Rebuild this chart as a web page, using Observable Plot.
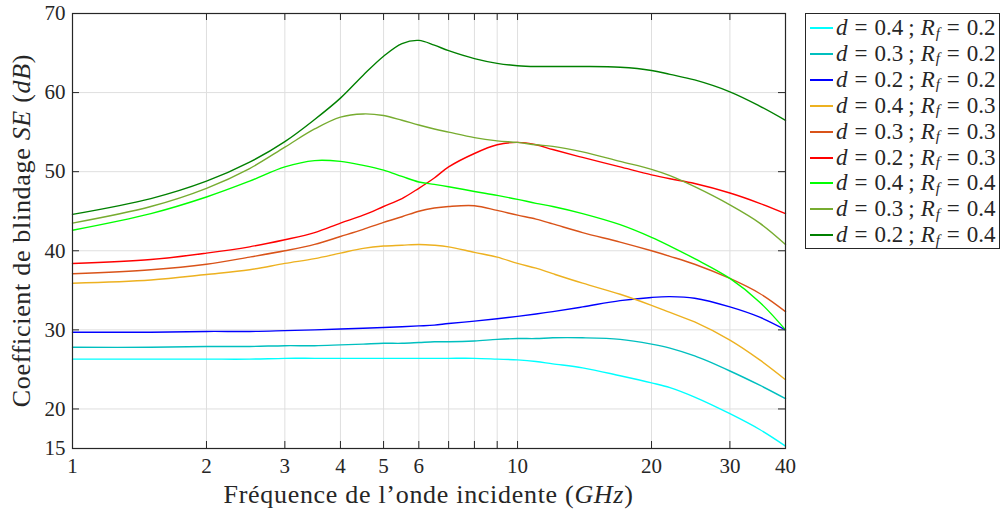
<!DOCTYPE html>
<html><head><meta charset="utf-8">
<script src="https://cdn.jsdelivr.net/npm/d3@7"></script>
<script src="https://cdn.jsdelivr.net/npm/@observablehq/plot@0.6"></script>
<style>
body{margin:0;background:#fff;}
#wrap{position:relative;width:1001px;height:515px;font-family:"Liberation Serif","DejaVu Serif",serif;}
#legend{position:absolute;left:805px;top:13px;width:195px;height:236px;border:1px solid #262626;box-sizing:border-box;background:#fff;}
.row{position:absolute;left:0;height:26px;display:flex;align-items:center;font-size:23px;color:#262626;white-space:nowrap;}
.sw{width:23px;height:0;border-top:2px solid;margin:0 3px 0 4px;}
.op{margin:0 7px;}
.sc{margin:0 6px 0 5px;}
.sub{font-size:15px;font-style:italic;position:relative;top:5px;margin-left:1px;}
</style></head><body><div id="wrap"><div id="legend"></div></div>
<script>
// Frequencies (GHz)
const freq = [1,1.5,2,2.5,3,3.5,4,4.5,5,5.5,6,6.5,7,8,9,10,11,12,14,17,20,22,25,30,35,40];
// Shielding effectiveness SE (dB) per series
const se_d04_rf02 = [26.3,26.3,26.3,26.3,26.4,26.4,26.4,26.4,26.4,26.4,26.4,26.4,26.4,26.4,26.3,26.2,26.0,25.7,25.2,24.2,23.3,22.7,21.5,19.4,17.4,15.3];
const se_d03_rf02 = [27.8,27.8,27.9,27.9,28.0,28.0,28.1,28.2,28.3,28.3,28.4,28.5,28.5,28.6,28.8,28.9,28.9,29.0,29.0,28.8,28.2,27.7,26.7,24.8,23.0,21.3];
const se_d02_rf02 = [29.7,29.7,29.8,29.8,29.9,30.0,30.1,30.2,30.3,30.4,30.5,30.6,30.8,31.1,31.4,31.7,32.0,32.3,32.9,33.7,34.1,34.2,34.0,32.9,31.6,30.0];
const se_d04_rf03 = [35.9,36.3,37.0,37.6,38.4,39.0,39.7,40.3,40.6,40.7,40.8,40.7,40.5,39.8,39.2,38.4,37.8,37.1,35.9,34.5,33.1,32.2,31.0,28.7,26.2,23.7];
const se_d03_rf03 = [37.1,37.6,38.3,39.2,40.0,40.8,41.8,42.7,43.6,44.3,45.0,45.4,45.6,45.7,45.1,44.5,44.0,43.4,42.3,41.1,40.0,39.3,38.3,36.5,34.6,32.3];
const se_d02_rf03 = [38.4,38.9,39.7,40.5,41.4,42.3,43.5,44.5,45.6,46.6,47.9,49.2,50.6,52.3,53.4,53.7,53.4,52.8,51.8,50.6,49.6,49.1,48.5,47.3,46.0,44.7];
const se_d04_rf04 = [42.6,44.7,46.8,48.8,50.6,51.4,51.3,50.8,50.2,49.4,48.7,48.4,48.1,47.5,47.0,46.5,46.0,45.6,44.7,43.3,41.7,40.6,39.0,36.5,33.5,30.0];
const se_d03_rf04 = [43.5,45.6,47.9,50.4,53.1,55.4,56.9,57.3,57.1,56.5,55.9,55.4,55.0,54.3,53.9,53.7,53.4,53.2,52.5,51.3,50.3,49.5,48.1,45.8,43.5,40.8];
const se_d02_rf04 = [44.6,46.6,48.8,51.2,53.8,56.6,59.3,62.2,64.6,66.2,66.6,66.0,65.3,64.3,63.7,63.4,63.3,63.3,63.3,63.2,62.8,62.3,61.6,60.1,58.3,56.5];

const dVals  = ["0.4","0.3","0.2","0.4","0.3","0.2","0.4","0.3","0.2"];
const rfVals = ["0.2","0.2","0.2","0.3","0.3","0.3","0.4","0.4","0.4"];
const colors = ["#00FFFF","#00BFBF","#0000FF","#EDB120","#D95319","#FF0000","#00FF00","#77AC30","#008000"];
const seriesValues = [se_d04_rf02,se_d03_rf02,se_d02_rf02,se_d04_rf03,se_d03_rf03,se_d02_rf03,se_d04_rf04,se_d03_rf04,se_d02_rf04];

const xTicks = [1,2,3,4,5,6,7,8,9,10,20,30,40];
const yTicks = [15,20,30,40,50,60,70];

const keys = dVals.map((d,i)=>`d=${d};Rf=${rfVals[i]}`);
const rows = [];
seriesValues.forEach((vals,i)=>freq.forEach((f,j)=>rows.push({f, v: vals[j], key: keys[i]})));

const W=1001,H=515,mL=72,mR=216,mT=13,mB=67;
const pW=W-mL-mR, pH=H-mT-mB;
const axisColor="#262626", gridColor="#dfdfdf";
const font='"Liberation Serif", "DejaVu Serif", serif';

const chart = Plot.plot({
  width:W, height:H, marginLeft:mL, marginRight:mR, marginTop:mT, marginBottom:mB,
  style:{fontFamily:font, fontSize:"21px", color:axisColor, background:"white", overflow:"visible"},
  x:{type:"log", domain:[1,40]},
  y:{domain:[15,70]},
  color:{domain:keys, range:colors},
  marks:[
    Plot.ruleX(xTicks,{stroke:gridColor, strokeWidth:1}),
    Plot.ruleY(yTicks,{stroke:gridColor, strokeWidth:1}),
    Plot.line(rows,{x:"f", y:"v", z:"key", stroke:"key", strokeWidth:1.4, curve:"catmull-rom"}),
    Plot.ruleX(xTicks,{insetTop:pH-7, stroke:axisColor}),
    Plot.ruleX(xTicks,{insetBottom:pH-7, stroke:axisColor}),
    Plot.ruleY(yTicks,{insetRight:pW-7, stroke:axisColor}),
    Plot.ruleY(yTicks,{insetLeft:pW-7, stroke:axisColor}),
    Plot.frame({stroke:axisColor, strokeWidth:1.2}),
    Plot.axisX(xTicks,{tickSize:0, tickPadding:10, tickFormat:d=>String(d), label:null, fill:axisColor}),
    Plot.axisY(yTicks,{tickSize:0, tickPadding:7, tickFormat:d=>String(d), label:null, fill:axisColor})
  ]
});
document.getElementById("wrap").prepend(chart);

// Axis titles with italic math parts
const svg = d3.select(chart);
const xt = svg.append("text").attr("x", mL + pW/2).attr("y", 503).attr("text-anchor","middle")
  .attr("font-family", font).attr("font-size", 26).attr("letter-spacing", "0.7px").attr("fill", axisColor);
xt.append("tspan").text("Fréquence de l’onde incidente (");
xt.append("tspan").attr("font-style","italic").text("GHz");
xt.append("tspan").text(")");
const yt = svg.append("text").attr("transform", `translate(30,${mT + pH/2}) rotate(-90)`).attr("text-anchor","middle")
  .attr("font-family", font).attr("font-size", 26).attr("letter-spacing", "0.7px").attr("fill", axisColor);
yt.append("tspan").text("Coefficient de blindage ");
yt.append("tspan").attr("font-style","italic").text("SE");
yt.append("tspan").text(" (");
yt.append("tspan").attr("font-style","italic").text("dB");
yt.append("tspan").text(")");

// Legend
const legend = document.getElementById("legend");
keys.forEach((k,i)=>{
  const r = document.createElement("div");
  r.className="row";
  r.style.top = (1 + i*25.9) + "px";
  r.innerHTML = `<span class="sw" style="border-color:${colors[i]}"></span><i>d</i><span class="op">=</span>${dVals[i]}<span class="sc">;</span><i>R</i><span class="sub">f</span><span class="op">=</span>${rfVals[i]}`;
  legend.appendChild(r);
});
</script>
</body></html>
